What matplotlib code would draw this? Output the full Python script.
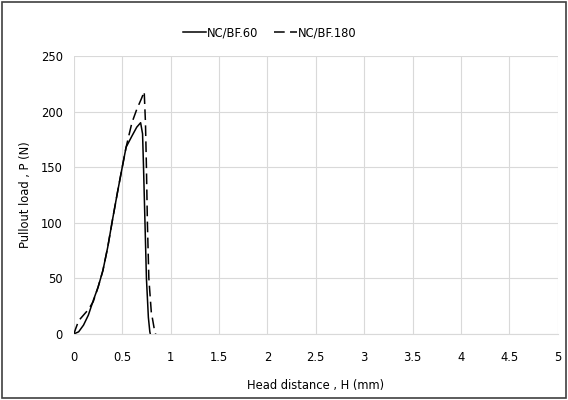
import matplotlib
matplotlib.use("Agg")
import matplotlib.pyplot as plt
from matplotlib.patches import Rectangle

# NC/BF.60 (solid)
h_60 = [0, 0.05, 0.1, 0.15, 0.2, 0.25, 0.3, 0.35, 0.4, 0.45, 0.5, 0.54, 0.6, 0.65,
        0.69, 0.71, 0.72, 0.735, 0.75, 0.77, 0.785, 0.79]
p_60 = [0, 2, 8, 17, 30, 42, 57, 78, 103, 127, 150, 168, 178, 186,
        190, 180, 150, 100, 50, 15, 2, 0]

# NC/BF.180 (dashed)
h_180 = [0, 0.02, 0.05, 0.1, 0.15, 0.2, 0.25, 0.3, 0.35, 0.4, 0.45, 0.5, 0.54, 0.6,
         0.65, 0.7, 0.727, 0.74, 0.75, 0.76, 0.775, 0.8, 0.83, 0.845]
p_180 = [0, 5, 12, 17, 22, 29, 42, 57, 78, 103, 127, 150, 168, 190,
         202, 212, 218, 190, 150, 100, 50, 20, 5, 0]

x_ticks = [0, 0.5, 1, 1.5, 2, 2.5, 3, 3.5, 4, 4.5, 5]
x_labels = ['0', '0.5', '1', '1.5', '2', '2.5', '3', '3.5', '4', '4.5', '5']
y_ticks = [0, 50, 100, 150, 200, 250]

plt.rcParams['font.family'] = ['DejaVu Sans']
fig = plt.figure(figsize=(5.68, 4), dpi=100)
ax = fig.add_axes([0.130, 0.165, 0.852, 0.695])

ax.plot(h_60, p_60, color='black', linewidth=1.1, label='NC/BF.60')
ax.plot(h_180, p_180, color='black', linewidth=1.1, linestyle=(0, (7, 3.5)), label='NC/BF.180')

ax.set_xlim(0, 5)
ax.set_ylim(0, 250)
ax.set_xticks(x_ticks)
ax.set_xticklabels(x_labels)
ax.set_yticks(y_ticks)
ax.grid(True, color='#d9d9d9', linewidth=0.8)
ax.set_axisbelow(True)
for s in ['top', 'right', 'left']:
    ax.spines[s].set_visible(False)
ax.spines['bottom'].set_color('#d9d9d9')
ax.tick_params(length=0, labelsize=8.3, pad=12)
ax.tick_params(axis='y', pad=8)

ax.set_xlabel('Head distance , H (mm)', fontsize=8.3, labelpad=11)
ax.set_ylabel('Pullout load , P (N)', fontsize=8.3, labelpad=6)

fig.legend(loc='upper center', bbox_to_anchor=(0.475, 0.96), ncol=2, frameon=False,
           fontsize=8.3, handlelength=2.0, handletextpad=0.1, columnspacing=1.3)

fig.patches.append(Rectangle((0.004, 0.004), 0.992, 0.99, transform=fig.transFigure,
                             fill=False, edgecolor='#404040', linewidth=1.2))

fig.savefig('out.png', dpi=100)
